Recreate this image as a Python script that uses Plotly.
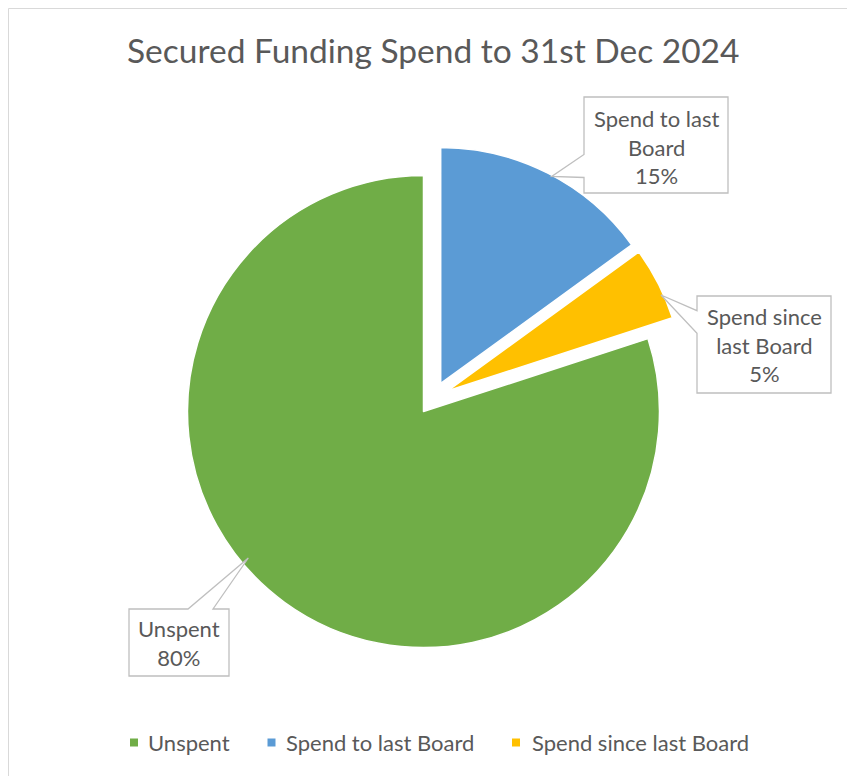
import textwrap
import plotly.graph_objects as go

# ---- data ----
categories = ["Unspent", "Spend to last Board", "Spend since last Board"]
values = [80, 15, 5]
colors = ["#70AD47", "#5B9BD5", "#FFC000"]
chart_title = "Secured Funding Spend to 31st Dec 2024"

# ---- page geometry (pixels) ----
W, H = 847, 776
TEXT = "#595959"
FONT = "Lato"


def fx(x):
    return x / W


def fy(y):
    return 1 - y / H


def path(points):
    return "M " + " L ".join(f"{fx(x):.5f},{fy(y):.5f}" for x, y in points) + " Z"


# pie placement: centre, radius and explosion
CX, CY, R = 433.2, 398.2, 236.0
PULL = 0.07
half = R * (1 + PULL)

fig = go.Figure()
fig.add_trace(go.Pie(
    labels=categories,
    values=values,
    sort=False,
    direction="clockwise",
    rotation=72,
    pull=[PULL] * len(values),
    marker=dict(colors=colors, line=dict(color="white", width=1.5)),
    textinfo="none",
    hoverinfo="label+percent",
    showlegend=False,
    domain=dict(x=[fx(CX - half), fx(CX + half)], y=[fy(CY + half), fy(CY - half)]),
))

# callout boxes (outline with pointer) and the centre of their text
callouts = [
    ([(129, 609), (188, 609), (248.3, 558), (213, 609), (229, 609), (229, 676), (129, 676)], (179, 643)),
    ([(584, 97), (728, 97), (728, 193), (584, 193), (584, 177.5), (551.7, 176.5), (584, 154.5)], (656, 147)),
    ([(697, 296), (831, 296), (831, 393), (697, 393), (697, 333.3), (661, 295), (697, 310.7)], (764, 345)),
]

# legend row: swatch left edge and text start
legend_y = 742.5
legend_items = [(130, 145.5), (267.5, 283.5), (512, 529.5)]
SW = 8

total = sum(values)
shapes = [
    # chart area border
    dict(type="rect", xref="paper", yref="paper", x0=fx(8.5), x1=fx(860), y0=fy(800), y1=fy(8.5),
         line=dict(color="#D9D9D9", width=1), fillcolor="rgba(0,0,0,0)", layer="below"),
]
annotations = []
for (pts, (tx, ty)), name, v in zip(callouts, categories, values):
    shapes.append(dict(type="path", xref="paper", yref="paper", path=path(pts),
                       line=dict(color="#BFBFBF", width=1.3), fillcolor="white"))
    label = textwrap.fill(name, 13).replace("\n", "<br>") + f"<br>{v / total * 100:.0f}%"
    annotations.append(dict(x=fx(tx), y=fy(ty), xref="paper", yref="paper", text=label,
                            showarrow=False, xanchor="center", yanchor="middle",
                            font=dict(family=FONT, size=22, color=TEXT)))

for (sx, tx), name, col in zip(legend_items, categories, colors):
    shapes.append(dict(type="rect", xref="paper", yref="paper",
                       x0=fx(sx), x1=fx(sx + SW), y0=fy(legend_y + SW / 2), y1=fy(legend_y - SW / 2),
                       line=dict(width=0), fillcolor=col))
    annotations.append(dict(x=fx(tx), y=fy(legend_y), xref="paper", yref="paper", text=name,
                            showarrow=False, xanchor="left", yanchor="middle",
                            font=dict(family=FONT, size=22, color=TEXT)))

annotations.append(dict(x=fx(433), y=fy(50), xref="paper", yref="paper", text=chart_title,
                        showarrow=False, xanchor="center", yanchor="middle",
                        font=dict(family=FONT, size=33.5, color=TEXT)))

fig.update_layout(
    width=W, height=H,
    margin=dict(l=0, r=0, t=0, b=0),
    paper_bgcolor="white",
    showlegend=False,
    shapes=shapes,
    annotations=annotations,
)

fig.write_html("out.html")
